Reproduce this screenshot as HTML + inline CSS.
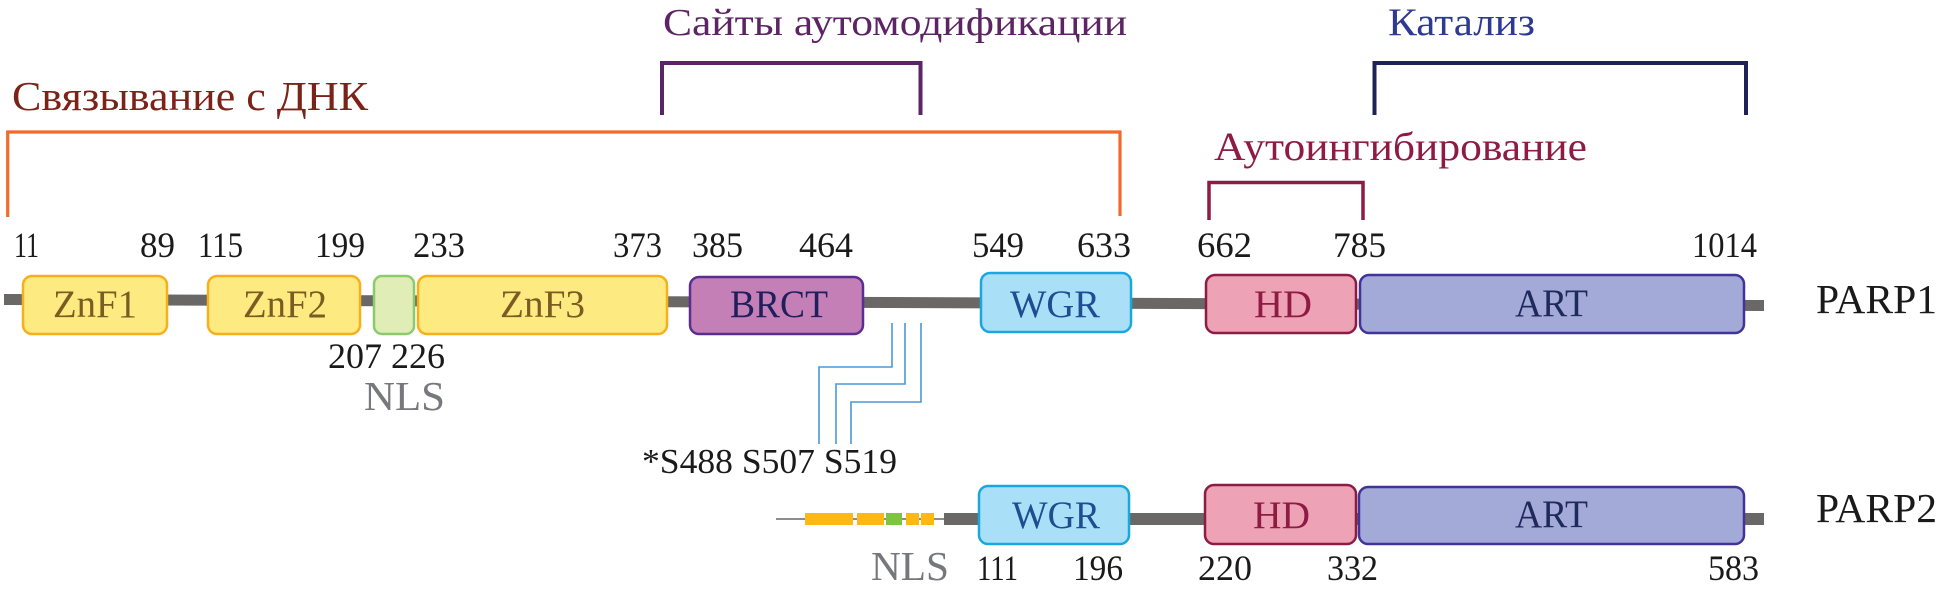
<!DOCTYPE html>
<html>
<head>
<meta charset="utf-8">
<style>
html,body{margin:0;padding:0;background:#fff;}
svg{display:block;}
text{font-family:"Liberation Serif","DejaVu Serif",serif;}
</style>
</head>
<body>
<svg width="1941" height="594" viewBox="0 0 1941 594" xmlns="http://www.w3.org/2000/svg">
  <!-- Titles -->
  <text x="12" y="110" font-size="41" fill="#7b2318" textLength="356" lengthAdjust="spacingAndGlyphs">Связывание с ДНК</text>
  <text x="663" y="35" font-size="38.5" fill="#5c2464" textLength="464" lengthAdjust="spacingAndGlyphs">Сайты аутомодификации</text>
  <text x="1388" y="35" font-size="39" fill="#2e3a92" textLength="147" lengthAdjust="spacingAndGlyphs">Катализ</text>
  <text x="1214" y="160" font-size="40" fill="#8e1b44" textLength="373" lengthAdjust="spacingAndGlyphs">Аутоингибирование</text>

  <!-- Brackets -->
  <path d="M7.7,217 V132 H1120 V216" fill="none" stroke="#f26b2a" stroke-width="3.2"/>
  <path d="M662,115 V63 H920.5 V115" fill="none" stroke="#5a2466" stroke-width="4"/>
  <path d="M1374.5,115 V63 H1746 V115" fill="none" stroke="#1f2257" stroke-width="4"/>
  <path d="M1209,220 V182.5 H1363 V220" fill="none" stroke="#8e1b44" stroke-width="3.5"/>

  <!-- PARP1 numbers -->
  <g font-size="35.5" fill="#1a1a1a">
    <text x="14" y="257" textLength="25" lengthAdjust="spacingAndGlyphs">11</text>
    <text x="140" y="257" textLength="35" lengthAdjust="spacingAndGlyphs">89</text>
    <text x="198" y="257" textLength="45" lengthAdjust="spacingAndGlyphs">115</text>
    <text x="315" y="257" textLength="50" lengthAdjust="spacingAndGlyphs">199</text>
    <text x="413" y="257" textLength="52" lengthAdjust="spacingAndGlyphs">233</text>
    <text x="613" y="257" textLength="49" lengthAdjust="spacingAndGlyphs">373</text>
    <text x="692" y="257" textLength="51" lengthAdjust="spacingAndGlyphs">385</text>
    <text x="799" y="257" textLength="54" lengthAdjust="spacingAndGlyphs">464</text>
    <text x="972" y="257" textLength="52" lengthAdjust="spacingAndGlyphs">549</text>
    <text x="1077" y="257" textLength="54" lengthAdjust="spacingAndGlyphs">633</text>
    <text x="1197" y="257" textLength="55" lengthAdjust="spacingAndGlyphs">662</text>
    <text x="1333" y="257" textLength="53" lengthAdjust="spacingAndGlyphs">785</text>
    <text x="1692" y="257" textLength="65" lengthAdjust="spacingAndGlyphs">1014</text>
    <text x="328" y="368" textLength="117" lengthAdjust="spacingAndGlyphs">207 226</text>
  </g>
  <text x="364" y="410" font-size="41" fill="#77787b" textLength="81" lengthAdjust="spacingAndGlyphs">NLS</text>

  <!-- PARP1 backbone -->
  <polygon points="4,294 1764,300 1764,311 4,305" fill="#6a6767"/>

  <!-- PARP1 domains -->
  <g stroke-width="2.5">
    <rect x="23" y="276" width="144" height="58" rx="9" fill="#fdea80" stroke="#f9ae1b"/>
    <rect x="208" y="276" width="152" height="58" rx="9" fill="#fdea80" stroke="#f9ae1b"/>
    <rect x="374" y="276" width="40" height="58" rx="8" fill="#e0edb6" stroke="#8cca6e"/>
    <rect x="418" y="276" width="249" height="58" rx="9" fill="#fdea80" stroke="#f9ae1b"/>
    <rect x="690" y="277" width="173" height="57" rx="9" fill="#c37fb6" stroke="#5c2d91"/>
    <rect x="981" y="273" width="150" height="59" rx="9" fill="#a9e0f8" stroke="#1aa7e0"/>
    <rect x="1206" y="275" width="150" height="58" rx="9" fill="#eda2b6" stroke="#8e1b44"/>
    <rect x="1360" y="275" width="384" height="58" rx="9" fill="#a3aad7" stroke="#40349b"/>
  </g>
  <g font-size="39">
    <text x="53" y="317" fill="#7a5c22" textLength="84" lengthAdjust="spacingAndGlyphs">ZnF1</text>
    <text x="243" y="317" fill="#7a5c22" textLength="84" lengthAdjust="spacingAndGlyphs">ZnF2</text>
    <text x="500" y="317" fill="#7a5c22" textLength="85" lengthAdjust="spacingAndGlyphs">ZnF3</text>
    <text x="730" y="317" fill="#1f1f5c" textLength="98" lengthAdjust="spacingAndGlyphs">BRCT</text>
    <text x="1010" y="317" fill="#1f4d91" textLength="90" lengthAdjust="spacingAndGlyphs">WGR</text>
    <text x="1254" y="317" fill="#8e1b44" textLength="58" lengthAdjust="spacingAndGlyphs">HD</text>
    <text x="1515" y="316" fill="#1f2a5c" textLength="73" lengthAdjust="spacingAndGlyphs">ART</text>
  </g>
  <text x="1816" y="313" font-size="41" fill="#1a1a1a" textLength="121" lengthAdjust="spacingAndGlyphs">PARP1</text>

  <!-- Phosphorylation site lines -->
  <g fill="none" stroke="#4b98d8" stroke-width="1.6">
    <path d="M892,323 V367 H819 V444"/>
    <path d="M905,323 V384 H836 V444"/>
    <path d="M921,323 V402 H851 V444"/>
  </g>
  <text x="642" y="473" font-size="35" fill="#1a1a1a" textLength="255" lengthAdjust="spacingAndGlyphs">*S488 S507 S519</text>

  <!-- PARP2 -->
  <line x1="776" y1="519" x2="946" y2="519" stroke="#6a6767" stroke-width="1.6"/>
  <rect x="805" y="513" width="48" height="12" fill="#fdb913"/>
  <rect x="857" y="513" width="27" height="12" fill="#fdb913"/>
  <rect x="886" y="513" width="16" height="12" fill="#80c342"/>
  <rect x="906" y="513" width="13" height="12" fill="#fdb913"/>
  <rect x="921" y="513" width="13" height="12" fill="#fdb913"/>
  <rect x="944" y="513" width="820" height="12" fill="#6a6767"/>
  <g stroke-width="2.5">
    <rect x="979" y="486" width="150" height="58" rx="9" fill="#a9e0f8" stroke="#1aa7e0"/>
    <rect x="1205" y="485" width="151" height="59" rx="9" fill="#eda2b6" stroke="#8e1b44"/>
    <rect x="1359" y="487" width="385" height="57" rx="9" fill="#a3aad7" stroke="#40349b"/>
  </g>
  <g font-size="39">
    <text x="1012" y="528" fill="#1f4d91" textLength="88" lengthAdjust="spacingAndGlyphs">WGR</text>
    <text x="1253" y="528" fill="#8e1b44" textLength="57" lengthAdjust="spacingAndGlyphs">HD</text>
    <text x="1515" y="527" fill="#1f2a5c" textLength="73" lengthAdjust="spacingAndGlyphs">ART</text>
  </g>
  <text x="1816" y="522" font-size="41" fill="#1a1a1a" textLength="121" lengthAdjust="spacingAndGlyphs">PARP2</text>

  <text x="871" y="580" font-size="41" fill="#77787b" textLength="78" lengthAdjust="spacingAndGlyphs">NLS</text>
  <g font-size="35.5" fill="#1a1a1a">
    <text x="977" y="580" textLength="41" lengthAdjust="spacingAndGlyphs">111</text>
    <text x="1073" y="580" textLength="50" lengthAdjust="spacingAndGlyphs">196</text>
    <text x="1198" y="580" textLength="54" lengthAdjust="spacingAndGlyphs">220</text>
    <text x="1327" y="580" textLength="51" lengthAdjust="spacingAndGlyphs">332</text>
    <text x="1708" y="580" textLength="51" lengthAdjust="spacingAndGlyphs">583</text>
  </g>
</svg>
</body>
</html>
